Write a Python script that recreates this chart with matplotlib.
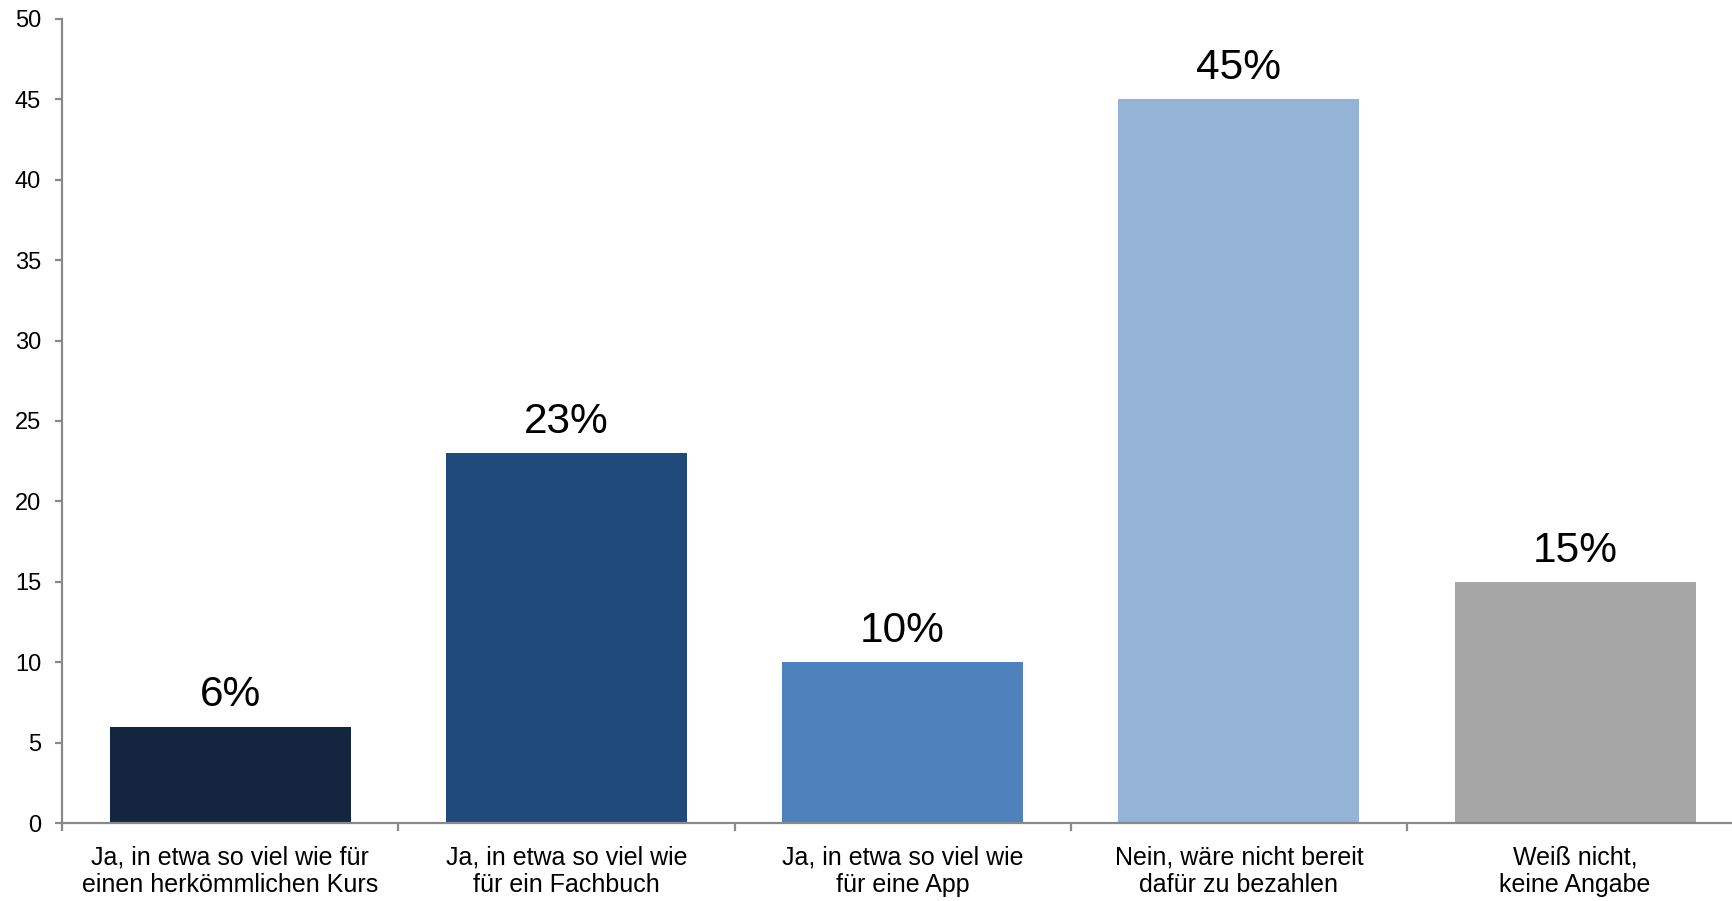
import matplotlib
matplotlib.use("Agg")
import matplotlib.pyplot as plt
import numpy as np

categories = [
    "Ja, in etwa so viel wie für\neinen herkömmlichen Kurs",
    "Ja, in etwa so viel wie\nfür ein Fachbuch",
    "Ja, in etwa so viel wie\nfür eine App",
    "Nein, wäre nicht bereit\ndafür zu bezahlen",
    "Weiß nicht,\nkeine Angabe",
]
values = [6, 23, 10, 45, 15]
colors = ["#14263f", "#214a7c", "#4f81bd", "#95b3d7", "#a6a6a6"]
yticks = [0, 5, 10, 15, 20, 25, 30, 35, 40, 45, 50]

plt.rcParams["font.family"] = ["Liberation Sans", "DejaVu Sans"]

W, H = 1733, 901
fig = plt.figure(figsize=(W / 100, H / 100), dpi=100)
left, right_px, top, zero = 62, 62 + 5 * 336.25, 19, 823
ax = fig.add_axes([left / W, (H - zero) / H, (right_px - left) / W, (zero - top) / H])

x = np.arange(len(values))
ax.bar(x, values, width=0.717, color=colors, zorder=2)

for xi, v in zip(x, values):
    ax.annotate(f"{v}%", (xi, v), xytext=(0, 8), textcoords="offset points",
                ha="center", va="bottom", fontsize=30.5, color="black")

ax.set_xlim(-0.5, len(values) - 0.5)
ax.set_ylim(0, 50)
ax.set_yticks(yticks)
ax.set_yticklabels([str(t) for t in yticks], fontsize=17)
ax.set_xticks(x)
ax.set_xticklabels(categories, fontsize=18, linespacing=1.22)
ax.set_xticks(np.arange(len(values) + 1) - 0.5, minor=True)

spine_color = "#898989"
for side in ["top", "right"]:
    ax.spines[side].set_visible(False)
for side in ["left", "bottom"]:
    ax.spines[side].set_color(spine_color)
    ax.spines[side].set_linewidth(1.6)

ax.tick_params(axis="y", direction="out", length=5, width=1.6, color=spine_color, pad=10)
ax.tick_params(axis="x", which="major", length=0, pad=16)
ax.tick_params(axis="x", which="minor", direction="out", length=6, width=1.6, color=spine_color)

fig.savefig("out.png", dpi=100)
